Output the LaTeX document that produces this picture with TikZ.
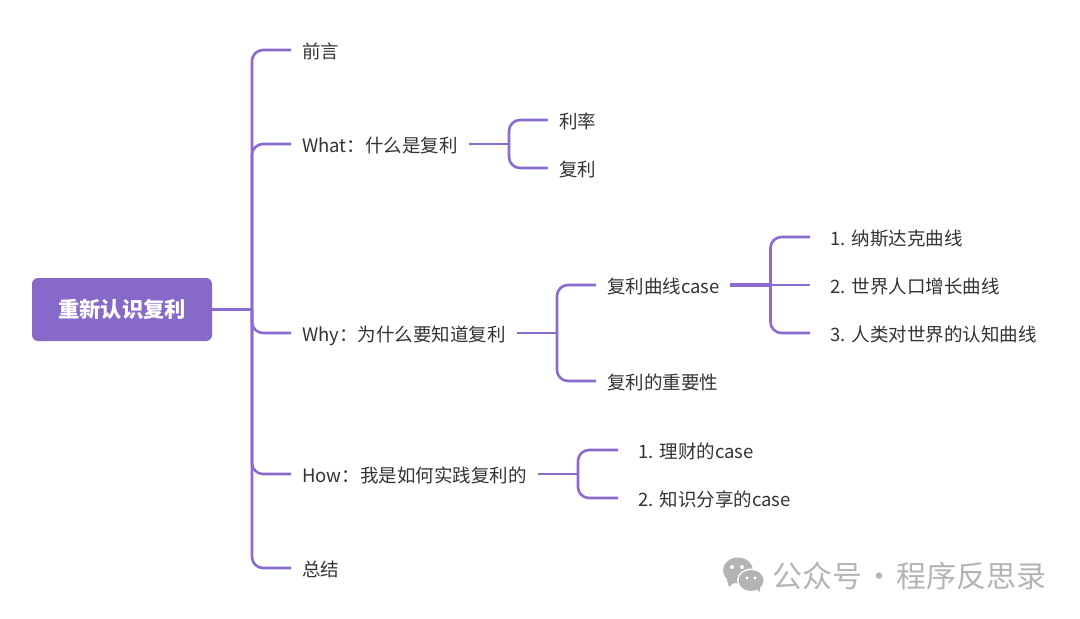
\documentclass[tikz,border=0pt]{standalone}
\usepackage{fontspec}
\setmainfont{Noto Sans CJK SC}
\usetikzlibrary{positioning}
\definecolor{mpurple}{HTML}{8769C9}
\definecolor{mlink}{HTML}{8A6CD0}
\definecolor{mtext}{HTML}{333333}
\definecolor{mgray}{HTML}{B4B4B4}
\tikzset{
  root/.style   = {rectangle, rounded corners=6pt, fill=mpurple, text=white, align=center,
                   minimum width=180pt, minimum height=63pt, inner sep=0pt,
                   font=\fontsize{21.3}{24}\selectfont\bfseries},
  topic/.style  = {anchor=west, text=mtext, inner ysep=0pt, inner xsep=11pt, text height=17pt, text depth=1pt,
                   font=\fontsize{18.5}{22}\selectfont},
  item/.style   = {topic, inner xsep=20.5pt},
  lane/.style   = {mlink, line width=2.6pt, rounded corners=11pt},
  mark text/.style = {anchor=west, text=mgray, inner sep=0pt, font=\fontsize{30}{34}\selectfont},
}
\begin{document}
\begin{tikzpicture}[x=1pt,y=-1pt]
\useasboundingbox (0,0) rectangle (1080,619);
% root
\node[root] (book) at (122,309.5) {重新认识复利};
\coordinate (bookjoin) at (252,309.5);
% first level
\node[topic] (intro) at (291,50) {前言};
\node[topic] (what) at (291,144) {What：什么是复利};
\node[topic] (why) at (291,333) {Why：为什么要知道复利};
\node[topic] (how) at (291,474) {How：我是如何实践复利的};
\node[topic] (summary) at (291,568) {总结};
\draw[lane] (book.east) -- (bookjoin);
\foreach \n in {intro,what,why,how,summary} {\draw[lane] (bookjoin) |- (\n.west);}
% what
\coordinate (whatjoin) at (509,144);
\node[topic] (rate) at (548,120) {利率};
\node[topic] (compound) at (548,168) {复利};
\draw[lane] (what.east) -- (whatjoin);
\foreach \n in {rate,compound} {\draw[lane] (whatjoin) |- (\n.west);}
% why
\coordinate (whyjoin) at (557,333);
\node[topic] (curve) at (596,285) {复利曲线case};
\node[topic] (weight) at (596,381) {复利的重要性};
\draw[lane] (why.east) -- (whyjoin);
\foreach \n in {curve,weight} {\draw[lane] (whyjoin) |- (\n.west);}
% curve cases
\coordinate (curvejoin) at (770.5,285);
\node[item] (nasdaq) at (810,237) {1. 纳斯达克曲线};
\node[item] (people) at (810,285) {2. 世界人口增长曲线};
\node[item] (mind) at (810,333) {3. 人类对世界的认知曲线};
\draw[lane, line width=3.4pt, shorten <=-1pt] (curve.east) -- (curvejoin);
\draw[lane] (curvejoin) -- (people.west);
\foreach \n in {nasdaq,mind} {\draw[lane] (curvejoin) |- (\n.west);}
% how
\coordinate (howjoin) at (578,474);
\node[item] (money) at (618,450) {1. 理财的case};
\node[item] (share) at (618,498) {2. 知识分享的case};
\draw[lane] (how.east) -- (howjoin);
\foreach \n in {money,share} {\draw[lane] (howjoin) |- (\n.west);}
% watermark
\fill[mgray] (738,570.5) ellipse (15 and 13);
\fill[mgray] (727,580) -- (729,587) -- (735,582) -- cycle;
\fill[white] (751,580.5) ellipse (14 and 12);
\fill[mgray] (751,580.5) ellipse (12.5 and 10.5);
\fill[mgray] (755,588) -- (760,592) -- (760,585) -- cycle;
\foreach \x/\y/\r in {732/567/2,742/567/2,747/578/1.6,755/578/1.6} {\fill[white] (\x,\y) circle (\r);}
\node[mark text] (mark) at (772,576) {公众号\hspace{2pt}·\hspace{2pt}程序反思录};
\end{tikzpicture}
\end{document}
